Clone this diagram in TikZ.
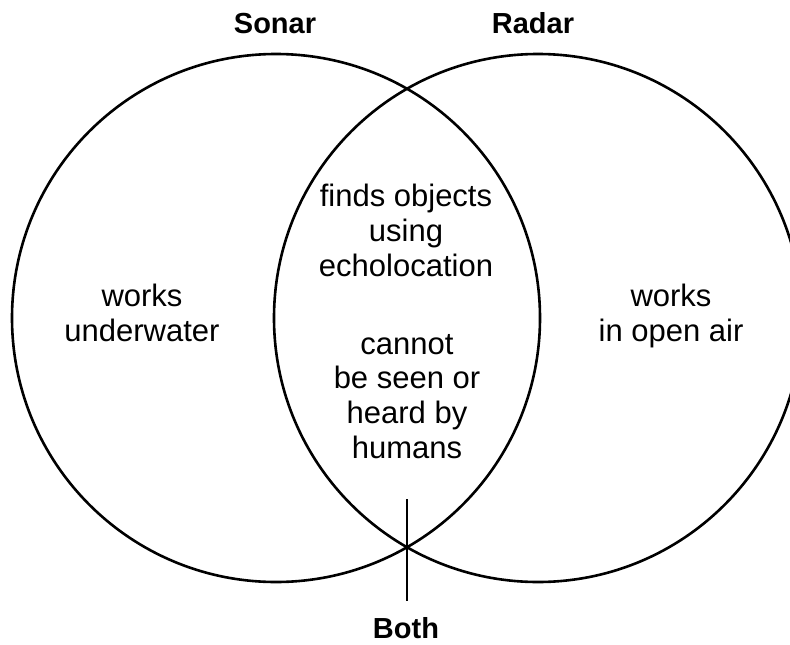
\documentclass[tikz,border=0pt]{standalone}
\usepackage{fontspec}
\setmainfont{Liberation Sans}
\begin{document}
\begin{tikzpicture}[x=1pt,y=-1pt,
  ring/.style={draw=black,line width=2.6pt},
  txt/.style={anchor=base,inner sep=0pt,font=\fontsize{31}{34.5}\selectfont},
  head/.style={anchor=base,inner sep=0pt,font=\fontsize{29}{32}\selectfont\bfseries}]
\clip (0,0) rectangle (790,645);
\fill[white] (0,0) rectangle (790,645);
\draw[ring] (276,318) circle[radius=264];
\draw[ring] (538,318) circle[radius=264];
% labels
\node[head] (sonar) at (275,33) {Sonar};
\node[head] (radar) at (533,33) {Radar};
\node[head] (both) at (406,638) {Both};
\coordinate (ltop) at (407,499);
\coordinate (lbot) at (407,601);
\draw[line width=2.2pt] (ltop) -- (lbot);
% left
\node[txt] (l1) at (142,306) {works};
\node[txt] (l2) at (142,341.5) {underwater};
% right
\node[txt] (r1) at (671,306) {works};
\node[txt] (r2) at (671,341.5) {in open air};
% middle
\node[txt] (m1) at (406,206) {finds objects};
\node[txt] (m2) at (406,241) {using};
\node[txt] (m3) at (406,276) {echolocation};
\node[txt] (m4) at (407,354) {cannot};
\node[txt] (m5) at (407,388.5) {be seen or};
\node[txt] (m6) at (407,423) {heard by};
\node[txt] (m7) at (407,458) {humans};
\end{tikzpicture}
\end{document}
